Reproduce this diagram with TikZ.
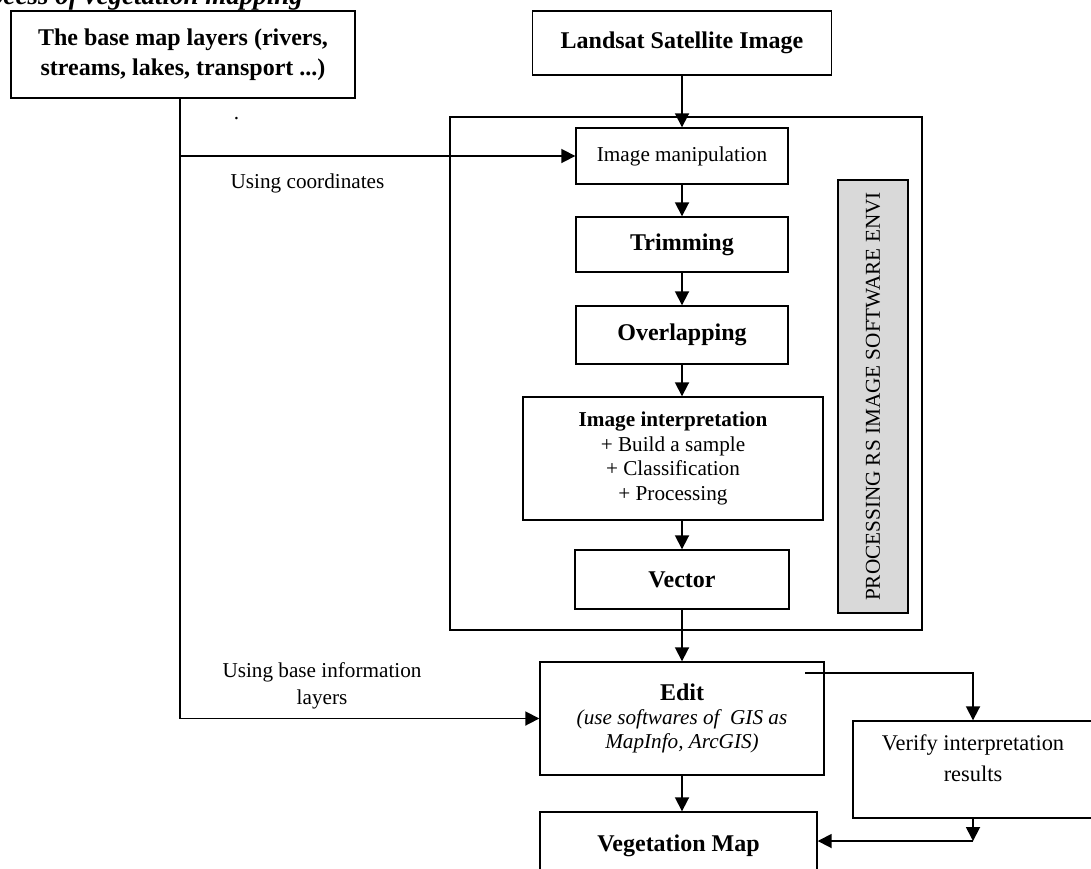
\documentclass[tikz,border=0pt]{standalone}
\usepackage{fontspec}
\setmainfont{Liberation Serif}
\usetikzlibrary{arrows.meta}
\definecolor{envigrey}{RGB}{217,217,217}

\begin{document}
\begin{tikzpicture}[x=0.5pt,y=-0.5pt,
    box/.style={draw, line width=0.7pt, inner sep=0pt, align=center},
    arrow/.style={line width=0.9pt, -{Triangle[length=7pt,width=7pt]}},
    big/.style={font=\fontsize{12}{15}\selectfont\bfseries},
    small/.style={font=\fontsize{10.6}{12.2}\selectfont}]
        \useasboundingbox (0,0) rectangle (1091,868);
        \clip (0,0) rectangle (1091,868);

        % Titulo (cortado)
        \node[anchor=base east, font=\fontsize{13.5}{16}\selectfont\bfseries\itshape] (title) at (310,4) {Process of vegetation mapping};

        % Quadro ENVI
        \node[box, minimum width=236pt, minimum height=256.5pt] (frame) at (686,373.5) {};
        \node[box, small, fill=envigrey, rotate=90, minimum width=216.5pt, minimum height=35pt] (envi) at (873,396.5) {PROCESSING RS IMAGE SOFTWARE ENVI};

        % Caixas
        \node[box, big, minimum width=172pt, minimum height=43.5pt] (base) at (183,54.5) {The base map layers (rivers,\\streams, lakes, transport ...)};
        \node[box, big, minimum width=149.5pt, minimum height=32pt] (landsat) at (682,43) {Landsat Satellite Image};
        \node[box, small, minimum width=106pt, minimum height=28pt] (manip) at (682,156) {Image manipulation};
        \node[box, big, minimum width=106pt, minimum height=27.5pt] (trim) at (682,244.5) {Trimming};
        \node[box, big, minimum width=106pt, minimum height=29pt] (overlap) at (682,335) {Overlapping};
        \node[box, small, minimum width=150pt, minimum height=61.5pt] (interp) at (673,458.5) {\textbf{Image interpretation}\\+ Build a sample\\+ Classification\\+ Processing};
        \node[box, big, minimum width=107pt, minimum height=29.5pt] (vector) at (682,579.5) {Vector};
        \node[box, small, minimum width=142pt, minimum height=56.5pt] (edit) at (682,718.5) {{\fontsize{12}{12.2}\selectfont\bfseries Edit}\\\textit{(use softwares of\ \ GIS as}\\\textit{MapInfo, ArcGIS)}};
        \node[box, big, minimum width=138.5pt, minimum height=34pt] (veg) at (678.5,846) {Vegetation Map};
        \node[box, font=\fontsize{11.2}{15.5}\selectfont, minimum width=120pt, minimum height=48.5pt] (verify) at (973,769.5) {Verify interpretation\\results\\[-4pt]};

        % Rotulos
        \node[small] (coordlbl) at (307.5,183) {Using coordinates};
        \node[small, align=center, font=\fontsize{10.6}{13.5}\selectfont] (baselbl) at (322,686) {Using base information\\layers};
        \node[small, anchor=base, inner sep=0pt] (dot) at (236.5,119) {.};

        % Setas
        \coordinate (trunk) at ([xshift=-1.5pt]base.south);
        \draw[arrow] (landsat.south) -- (manip.north);
        \draw[arrow] (trunk) |- (edit.west);
        \draw[arrow] (trunk |- manip.west) -- (manip.west);
        \draw[arrow] (manip.south) -- (trim.north);
        \draw[arrow] (trim.south) -- (overlap.north);
        \draw[arrow] (overlap.south) -- (overlap.south |- interp.north);
        \draw[arrow] (vector.north |- interp.south) -- (vector.north);
        \draw[arrow] (vector.south) -- (edit.north);
        \draw[arrow] (edit.south) -- (edit.south |- veg.north);

        \coordinate (split) at (805,673);
        \coordinate (turn) at (973,841);
        \draw[arrow] (split) -| (verify.north);
        \draw[arrow] (verify.south) -- (turn);
        \draw[arrow] (turn) -- (turn -| veg.east);
    \end{tikzpicture}
\end{document}
